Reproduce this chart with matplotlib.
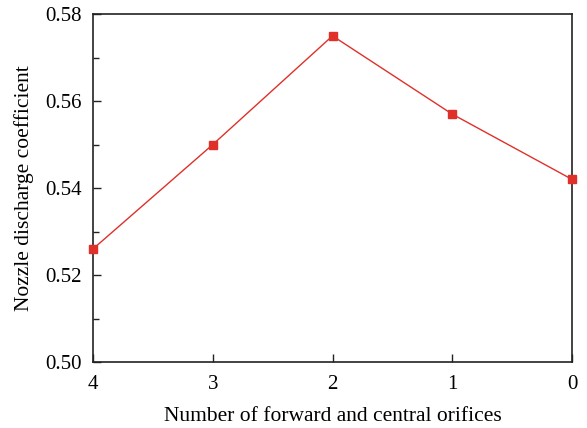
import matplotlib
matplotlib.use("Agg")
import matplotlib.pyplot as plt
from matplotlib.ticker import MultipleLocator

x_vals = [4, 3, 2, 1, 0]
coeff = [0.526, 0.550, 0.575, 0.557, 0.542]
x_ticks = [4, 3, 2, 1, 0]
y_ticks = [0.50, 0.52, 0.54, 0.56, 0.58]

plt.rcParams['font.family'] = ['Liberation Serif', 'DejaVu Serif']

fig = plt.figure(figsize=(5.87, 4.28), dpi=100)
ax = fig.add_axes([0.1584, 0.1542, 0.8161, 0.8128])
ax.plot(x_vals, coeff, color='#e0302a', lw=1.0, marker='s', ms=6,
        mfc='#e0302a', mec='#e0302a', clip_on=False, zorder=3)
ax.set_xlim(4, 0)
ax.set_ylim(0.50, 0.58)
ax.set_xticks(x_ticks)
ax.set_xticklabels([str(v) for v in x_ticks])
ax.set_yticks(y_ticks)
ax.set_yticklabels([f"{v:.2f}" for v in y_ticks])
ax.yaxis.set_minor_locator(MultipleLocator(0.01))
ax.tick_params(which='both', direction='in', labelsize=15, color='#222222')
ax.tick_params(which='major', length=6, width=1)
ax.tick_params(which='minor', length=4, width=1)
ax.tick_params(axis='x', pad=9)
ax.tick_params(axis='y', pad=8)
for s in ax.spines.values():
    s.set_linewidth(1.2)
    s.set_color('#222222')
ax.set_xlabel('Number of forward and central orifices', fontsize=15.5, labelpad=10)
ax.set_ylabel('Nozzle discharge coefficient', fontsize=15.5, labelpad=8)
fig.savefig('out.png', dpi=100)
